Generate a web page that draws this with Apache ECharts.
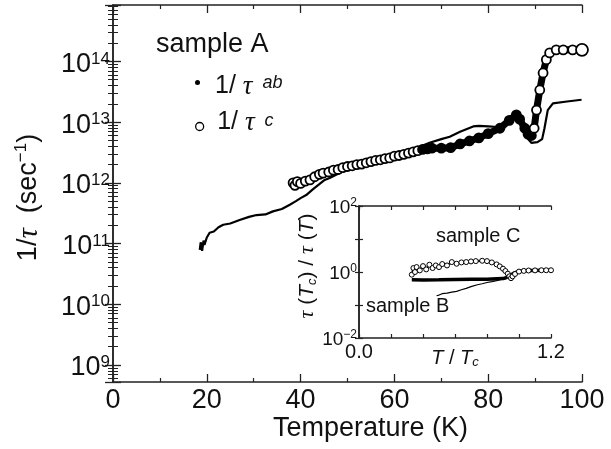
<!DOCTYPE html>
<html><head><meta charset="utf-8">
<script src="https://cdn.jsdelivr.net/npm/echarts@6/dist/echarts.min.js"></script>
<style>html,body{margin:0;padding:0;background:#fff}#c{width:611px;height:449px}</style>
</head><body><div id="c"></div>
<script>
// ---- main panel data: 1/tau vs Temperature (K) ----
const abT = [18.5,18.7,19,19.3,19.5,20,20.6,21.5,22.5,23.5,25,27,29,30.6,32.5,34.1,36,37.7,39,40,41.2,42.6,44,45,46.2,48,50,52,54,56,58,60,62,64,65.5,67.5,70,71.8,74,76.8,78,80,82,84,85.5,86.5,87.5,88.5,89.2,90.5,91.5,92,92.7,93.8,96.8,99.9];
const abV = [7.9e10,1.05e11,7.6e10,1.12e11,9.5e10,1.26e11,1.51e11,1.58e11,1.86e11,2.04e11,2.14e11,2.45e11,2.75e11,2.95e11,3.02e11,3.39e11,3.72e11,4.37e11,5.0e11,5.6e11,6.3e11,7.8e11,9.5e11,1.10e12,1.20e12,1.41e12,1.66e12,1.86e12,2.04e12,2.24e12,2.45e12,2.69e12,2.95e12,3.31e12,3.98e12,4.57e12,5.25e12,5.75e12,6.92e12,8.51e12,8.71e12,8.51e12,8.32e12,1.0e13,1.26e13,1.12e13,7.94e12,5.25e12,4.57e12,4.68e12,5.25e12,7.94e12,1.58e13,2.04e13,2.19e13,2.34e13];
const cT = [38.4,38.8,39.3,40,41,42,43,44,44.8,46,47,48,49,50,51,52,53,54,55,56,57,58,59,60,61,62,63,64,65,66,67,68,70,72,74,76,78,80,82.5,84.5,86,86.7,87.8,88.5,89.2,89.8,90.3,91,91.7,92.4,93.1,94.5,96,98,100];
const cV = [1.0e12,9.1e11,1.05e12,9.8e11,1.07e12,1.12e12,1.26e12,1.38e12,1.45e12,1.51e12,1.62e12,1.66e12,1.78e12,1.86e12,1.91e12,2.0e12,2.04e12,2.14e12,2.24e12,2.34e12,2.40e12,2.51e12,2.57e12,2.75e12,2.82e12,2.95e12,3.09e12,3.24e12,3.39e12,3.55e12,3.63e12,3.72e12,3.72e12,3.80e12,4.37e12,4.90e12,5.50e12,6.46e12,7.94e12,1.07e13,1.32e13,1.12e13,7.94e12,6.31e12,6.03e12,7.94e12,1.58e13,3.39e13,6.46e13,1.07e14,1.38e14,1.55e14,1.55e14,1.55e14,1.55e14];
const mainXTicks = {min: 0, max: 100, interval: 20};
const mainYRange = {min: 5.25e8, max: 8.5e14};

// ---- inset data: tau(Tc)/tau(T) vs T/Tc ----
const insCX = [0.33,0.34,0.35,0.36,0.38,0.40,0.42,0.44,0.46,0.48,0.50,0.52,0.55,0.58,0.61,0.64,0.67,0.70,0.73,0.77,0.80,0.83,0.86,0.88,0.90,0.915,0.93,0.94,0.95,0.96,0.975,1.0,1.03,1.06,1.10,1.14,1.17,1.2];
const insCV = [0.83,1.32,1.0,1.41,1.12,1.51,1.20,1.66,1.32,1.58,1.41,1.74,1.58,2.0,1.78,1.95,2.0,2.09,2.14,2.19,2.14,1.95,1.70,1.48,1.26,1.07,0.89,0.74,0.65,0.74,0.87,1.03,1.08,1.11,1.12,1.13,1.13,1.13];
const insBX = [0.33,0.40,0.50,0.60,0.70,0.80,0.86,0.90,0.925,0.945,0.965,0.985,1.0,1.03,1.06,1.1,1.14,1.2];
const insBV = [0.58,0.575,0.58,0.59,0.60,0.60,0.62,0.63,0.69,0.78,0.91,1.0,1.03,1.08,1.11,1.12,1.13,1.13];
const insLX = [0.485,0.49,0.50,0.52,0.55,0.58,0.61,0.64,0.67,0.70,0.74,0.77,0.80,0.83,0.86,0.89,0.92];
const insLV = [0.19,0.178,0.20,0.22,0.23,0.245,0.26,0.29,0.32,0.36,0.41,0.44,0.48,0.51,0.55,0.60,0.63];
const insXTicks = {min: 0, max: 1.2, interval: 0.2};
const insYRange = {min: 0.01, max: 100};

const zip = (a, b) => a.map((x, i) => [x, b[i]]);
const FF = 'Liberation Sans';
const INK = '#111';

function expOf(v){ const l = Math.log10(v); const e = Math.round(l); return Math.abs(l - e) < 0.01 ? e : null; }
function mainYLabel(v){ const e = expOf(v); return e === null ? '' : '{b|10}{s|' + e + '}'; }
function insYLabel(v){ const e = expOf(v); if (e === null || (e !== 2 && e !== 0 && e !== -2)) return ''; return '{b|10}{s|' + String(e).replace('-', '\u2212') + '}'; }
function insXLabel(v){ if (Math.abs(v) < 1e-9) return '0.0'; if (Math.abs(v - 1.2) < 1e-9) return '1.2'; return ''; }

const axLine = {show: true, lineStyle: {color: '#222', width: 1.5}};
const mainYRich = {
  b: {fontSize: 27, fontFamily: FF, color: INK, lineHeight: 30, padding: [6,0,0,0]},
  s: {fontSize: 17, fontFamily: FF, color: INK, lineHeight: 17, verticalAlign: 'top', padding: [4,0,0,0]}
};
const insYRich = {
  b: {fontSize: 19, fontFamily: FF, color: INK, lineHeight: 22, padding: [3,0,0,0]},
  s: {fontSize: 12, fontFamily: FF, color: INK, lineHeight: 12, verticalAlign: 'top', padding: [2,0,0,0]}
};

const chart = echarts.init(document.getElementById('c'), null, {renderer: 'canvas'});
chart.setOption({
  animation: false,
  backgroundColor: '#fff',
  title: [
    {text: 'sample A', left: 156, top: 31, padding: 0, textStyle: {fontSize: 27, fontWeight: 'normal', fontFamily: FF, color: INK}},
    {text: 'sample C', left: 436, top: 226, padding: 0, textStyle: {fontSize: 20, fontWeight: 'normal', fontFamily: FF, color: INK}},
    {text: 'sample B', left: 366, top: 296, padding: 0, textStyle: {fontSize: 20, fontWeight: 'normal', fontFamily: FF, color: INK}}
  ],
  legend: [
    {data: [{name: 'ab', icon: 'circle', itemStyle: {color: '#000', borderWidth: 0}}], left: 195, top: 65, padding: 0,
     itemWidth: 25, itemHeight: 5, selectedMode: false,
     formatter: () => '{a|1/ }{t|\u03c4}{s|  ab}',
     textStyle: {rich: {
       a: {fontSize: 25, fontFamily: FF, color: INK, lineHeight: 30, padding: [8,0,0,0]},
       t: {fontSize: 27, fontFamily: 'Liberation Serif', fontStyle: 'italic', color: INK, lineHeight: 30, padding: [8,0,0,0]},
       s: {fontSize: 18, fontFamily: FF, fontStyle: 'italic', color: INK, lineHeight: 18, verticalAlign: 'top', padding: [6,0,0,0]}
     }}},
    {data: [{name: 'c', icon: 'circle', itemStyle: {color: '#fff', borderColor: '#000', borderWidth: 1.3}}], left: 195, top: 109, padding: 0,
     itemWidth: 25, itemHeight: 8, selectedMode: false,
     formatter: () => '{a|1/ }{t|\u03c4}{s|  c}',
     textStyle: {rich: {
       a: {fontSize: 25, fontFamily: FF, color: INK, lineHeight: 30, padding: [0,0,8,0]},
       t: {fontSize: 27, fontFamily: 'Liberation Serif', fontStyle: 'italic', color: INK, lineHeight: 30, padding: [0,0,8,0]},
       s: {fontSize: 18, fontFamily: FF, fontStyle: 'italic', color: INK, lineHeight: 18, verticalAlign: 'top', padding: [0,0,0,0]}
     }}}
  ],
  grid: [
    {left: 113, top: 5, right: 29, bottom: 67, containLabel: false},
    {left: 359, top: 206, width: 192, height: 132, containLabel: false}
  ],
  xAxis: [
    {type: 'value', gridIndex: 0, position: 'bottom', min: mainXTicks.min, max: mainXTicks.max, interval: mainXTicks.interval,
     name: 'Temperature (K)', nameLocation: 'middle', nameGap: 33, nameMoveOverlap: false,
     nameTextStyle: {fontSize: 27, fontFamily: FF, color: INK, padding: [0,0,0,46]},
     axisLine: axLine, splitLine: {show: false},
     axisTick: {inside: true, length: 8, lineStyle: {color: '#222', width: 1.3}},
     minorTick: {show: true, splitNumber: 2, length: 4, lineStyle: {color: '#222', width: 1.2}},
     axisLabel: {fontSize: 27, fontFamily: FF, color: INK, margin: 5}},
    {type: 'value', gridIndex: 0, position: 'top', min: mainXTicks.min, max: mainXTicks.max, interval: mainXTicks.interval,
     axisLine: axLine, splitLine: {show: false},
     axisTick: {inside: true, length: 8, lineStyle: {color: '#222', width: 1.3}},
     minorTick: {show: true, splitNumber: 2, length: 4, lineStyle: {color: '#222', width: 1.2}},
     axisLabel: {show: false}},
    {type: 'value', gridIndex: 1, position: 'bottom', min: insXTicks.min, max: insXTicks.max, interval: insXTicks.interval,
     name: '{i|T}{a| / }{i|T}{sub|c}', nameLocation: 'middle', nameGap: 9, nameMoveOverlap: false,
     nameTextStyle: {rich: {
       i: {fontSize: 20, fontFamily: FF, fontStyle: 'italic', color: INK, lineHeight: 22},
       a: {fontSize: 20, fontFamily: FF, color: INK, lineHeight: 22},
       sub: {fontSize: 13, fontFamily: FF, fontStyle: 'italic', color: INK, lineHeight: 13, verticalAlign: 'bottom'}
     }},
     axisLine: axLine, splitLine: {show: false},
     axisTick: {inside: true, length: 4, lineStyle: {color: '#222', width: 1.2}},
     axisLabel: {fontSize: 20, fontFamily: FF, color: INK, margin: 4, formatter: insXLabel, showMinLabel: true, showMaxLabel: true}},
    {type: 'value', gridIndex: 1, position: 'top', min: insXTicks.min, max: insXTicks.max, interval: insXTicks.interval,
     axisLine: axLine, splitLine: {show: false},
     axisTick: {inside: true, length: 4, lineStyle: {color: '#222', width: 1.2}},
     axisLabel: {show: false}}
  ],
  yAxis: [
    {type: 'log', logBase: 10, gridIndex: 0, position: 'left', min: mainYRange.min, max: mainYRange.max,
     name: '{a|1/}{t|\u03c4}{a|  (sec}{s|\u22121}{a|)}', nameLocation: 'middle', nameRotate: 90, nameGap: 68, nameMoveOverlap: false,
     nameTextStyle: {padding: [0,8,0,0], rich: {
       a: {fontSize: 27, fontFamily: FF, color: INK, lineHeight: 32},
       t: {fontSize: 29, fontFamily: 'Liberation Serif', fontStyle: 'italic', color: INK, lineHeight: 32},
       s: {fontSize: 17, fontFamily: FF, color: INK, lineHeight: 17, verticalAlign: 'top'}
     }},
     axisLine: axLine, splitLine: {show: false},
     axisTick: {inside: true, length: 8, lineStyle: {color: '#222', width: 1.3}},
     minorTick: {show: true, splitNumber: 9, length: 5, lineStyle: {color: '#222', width: 1}},
     axisLabel: {margin: 3, formatter: mainYLabel, showMinLabel: false, showMaxLabel: false, rich: mainYRich}},
    {type: 'log', logBase: 10, gridIndex: 0, position: 'right', min: mainYRange.min, max: mainYRange.max,
     axisLine: axLine, splitLine: {show: false},
     axisTick: {inside: true, length: 8, lineStyle: {color: '#222', width: 1.3}},
     minorTick: {show: true, splitNumber: 9, length: 5, lineStyle: {color: '#222', width: 1}},
     axisLabel: {show: false}},
    {type: 'log', logBase: 10, gridIndex: 1, position: 'left', min: insYRange.min, max: insYRange.max, interval: 1,
     name: '{t|\u03c4}{a| (}{i|T}{sub|c}{a|) / }{t|\u03c4}{a| (}{i|T}{a|)}', nameLocation: 'middle', nameRotate: 90, nameGap: 40, nameMoveOverlap: false,
     nameTextStyle: {padding: [0,0,0,12], rich: {
       t: {fontSize: 22, fontFamily: 'Liberation Serif', fontStyle: 'italic', color: INK, lineHeight: 24},
       a: {fontSize: 21, fontFamily: FF, color: INK, lineHeight: 24},
       i: {fontSize: 21, fontFamily: FF, fontStyle: 'italic', color: INK, lineHeight: 24},
       sub: {fontSize: 13, fontFamily: FF, fontStyle: 'italic', color: INK, lineHeight: 13, verticalAlign: 'bottom'}
     }},
     axisLine: axLine, splitLine: {show: false},
     axisTick: {inside: true, length: 4, lineStyle: {color: '#222', width: 1.2}},
     axisLabel: {margin: 2, formatter: insYLabel, showMinLabel: true, showMaxLabel: true, rich: insYRich}},
    {type: 'log', logBase: 10, gridIndex: 1, position: 'right', min: insYRange.min, max: insYRange.max, interval: 1,
     axisLine: axLine, splitLine: {show: false},
     axisTick: {inside: true, length: 4, lineStyle: {color: '#222', width: 1.2}},
     axisLabel: {show: false}}
  ],
  series: [
    {name: 'ab', type: 'line', xAxisIndex: 0, yAxisIndex: 0, data: zip(abT, abV),
     showSymbol: false, symbol: 'circle', symbolSize: 3, itemStyle: {color: '#000'},
     lineStyle: {color: '#000', width: 2.2}, z: 3},
    {name: 'c', type: 'line', xAxisIndex: 0, yAxisIndex: 0, clip: false,
     data: zip(cT, cV).map((p, i, arr) => {
       if (i === arr.length - 1) return {value: p, symbolSize: 12};
       if (p[0] >= 65.5 && p[0] <= 89.5) return {value: p, itemStyle: {color: '#000'}};
       return p;
     }),
     symbol: 'circle', symbolSize: 9, showAllSymbol: true,
     itemStyle: {color: '#fff', borderColor: '#000', borderWidth: 1.8},
     lineStyle: {color: '#000', width: 7}, z: 4},
    {name: 'insetC', type: 'line', xAxisIndex: 2, yAxisIndex: 2, data: zip(insCX, insCV), clip: false,
     symbol: 'circle', symbolSize: 5, showAllSymbol: true,
     itemStyle: {color: '#fff', borderColor: '#000', borderWidth: 1},
     lineStyle: {color: '#000', width: 2}, z: 4},
    {name: 'insetB', type: 'line', xAxisIndex: 2, yAxisIndex: 2, data: zip(insBX, insBV),
     showSymbol: false, itemStyle: {color: '#000'}, lineStyle: {color: '#000', width: 3.5}, z: 3},
    {name: 'insetB2', type: 'line', xAxisIndex: 2, yAxisIndex: 2, data: zip(insLX, insLV),
     symbol: 'circle', symbolSize: 3, showSymbol: false, itemStyle: {color: '#000'},
     lineStyle: {color: '#000', width: 1.2}, z: 3}
  ]
});
</script></body></html>
